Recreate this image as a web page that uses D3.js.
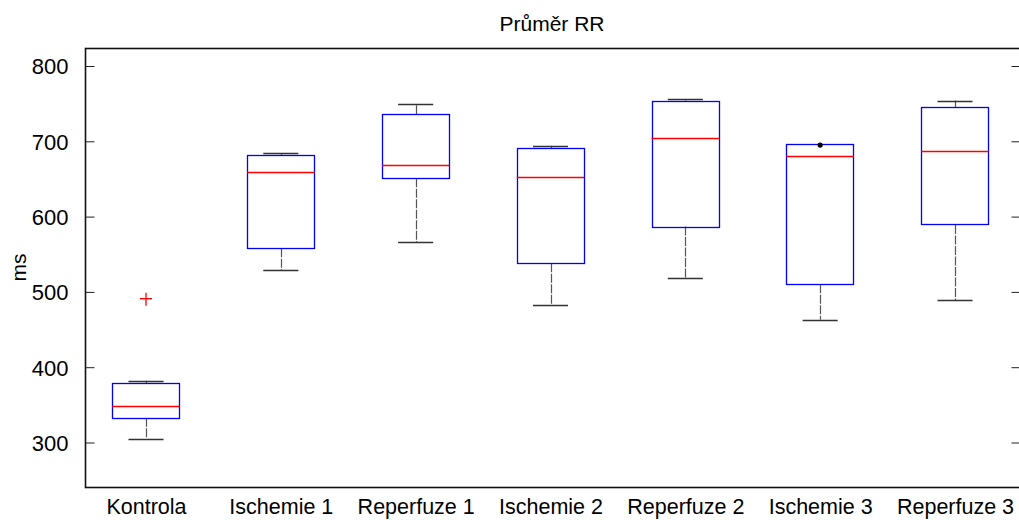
<!DOCTYPE html>
<html>
<head>
<meta charset="utf-8">
<script src="https://cdn.jsdelivr.net/npm/d3@7"></script>
<style>
	body { margin: 0; background: #fff; }
	text { font-family: "Liberation Sans", Arial, sans-serif; fill: #000; }
</style>
</head>
<body>
<svg id="chart" width="1019" height="520"></svg>
<script>
// data
var categories = ["Kontrola", "Ischemie 1", "Reperfuze 1", "Ischemie 2", "Reperfuze 2", "Ischemie 3", "Reperfuze 3"];
var whiskerLow  = [305, 529, 566, 482, 519, 463, 489];
var q1          = [333, 558, 651, 538, 587, 510, 589];
var median      = [349, 659, 668, 652, 705, 680, 687];
var q3          = [379, 682, 736, 691, 754, 696, 745];
var whiskerHigh = [382, 684, 750, 694, 756, 696, 754];
var outliers    = [{ cat: "Kontrola", value: 491 }];
var dots        = [{ cat: "Ischemie 3", value: 695 }];
var yTicks      = [300, 400, 500, 600, 700, 800];

var svg = d3.select("#chart");

var margin = { top: 48, right: 1020, bottom: 487, left: 85 };

var x = d3.scalePoint().domain(categories).range([146, 955]);
var step = x.step();
var y = d3.scaleLinear().domain([300, 800]).range([442.5, 66]);

var boxes = categories.map(function (c, i) {
	return { cat: c, lo: whiskerLow[i], q1: q1[i], med: median[i], q3: q3[i], hi: whiskerHigh[i] };
});

// title
svg.append("text")
	.attr("x", 552).attr("y", 31)
	.attr("text-anchor", "middle")
	.style("font-size", "21px")
	.text("Průměr RR");

// y label
svg.append("text")
	.attr("transform", "translate(26," + ((margin.top + margin.bottom) / 2) + ") rotate(-90)")
	.attr("text-anchor", "middle")
	.style("font-size", "21px")
	.text("ms");

var root = svg.append("g");

// whiskers
var g = root.selectAll("g.box").data(boxes).enter().append("g").attr("class", "box");

g.append("line")
	.attr("x1", function (d) { return Math.round(x(d.cat)) + 0.5; })
	.attr("x2", function (d) { return Math.round(x(d.cat)) + 0.5; })
	.attr("y1", function (d) { return y(d.q3); })
	.attr("y2", function (d) { return y(d.hi); })
	.attr("stroke", "#555").attr("stroke-width", 1.2).attr("stroke-dasharray", "9,1.5");
g.append("line")
	.attr("x1", function (d) { return Math.round(x(d.cat)) + 0.5; })
	.attr("x2", function (d) { return Math.round(x(d.cat)) + 0.5; })
	.attr("y1", function (d) { return y(d.q1); })
	.attr("y2", function (d) { return y(d.lo); })
	.attr("stroke", "#555").attr("stroke-width", 1.2).attr("stroke-dasharray", "9,1.5");

// caps
["lo", "hi"].forEach(function (k) {
	g.filter(function (d) { return d.hi !== d.q3 || k === "lo"; })
		.append("line")
		.attr("x1", function (d) { return x(d.cat) - step * 0.13; })
		.attr("x2", function (d) { return x(d.cat) + step * 0.13; })
		.attr("y1", function (d) { return Math.round(y(d[k])) + 0.5; })
		.attr("y2", function (d) { return Math.round(y(d[k])) + 0.5; })
		.attr("stroke", "#333").attr("stroke-width", 1.4);
});

// boxes
g.append("rect")
	.attr("x", function (d) { return Math.round(x(d.cat) - step * 0.25) + 0.5; })
	.attr("y", function (d) { return Math.round(y(d.q3)) + 0.5; })
	.attr("width", Math.round(step * 0.5))
	.attr("height", function (d) { return Math.round(y(d.q1) - y(d.q3)); })
	.attr("fill", "none").attr("stroke", "#0000ff").attr("stroke-width", 1.3);

// medians
g.append("line")
	.attr("x1", function (d) { return x(d.cat) - step * 0.25; })
	.attr("x2", function (d) { return x(d.cat) + step * 0.25; })
	.attr("y1", function (d) { return Math.round(y(d.med)) + 0.5; })
	.attr("y2", function (d) { return Math.round(y(d.med)) + 0.5; })
	.attr("stroke", "#ff0000").attr("stroke-width", 1.3);

// outliers (+)
var o = root.selectAll("g.out").data(outliers).enter().append("g")
	.attr("transform", function (d) { return "translate(" + x(d.cat) + "," + y(d.value) + ")"; });
o.append("line").attr("x1", -6).attr("x2", 6).attr("y1", 0).attr("y2", 0).attr("stroke", "#ff0000").attr("stroke-width", 1.3);
o.append("line").attr("x1", 0).attr("x2", 0).attr("y1", -6).attr("y2", 7).attr("stroke", "#ff0000").attr("stroke-width", 1.3);

root.selectAll("circle.dot").data(dots).enter().append("circle")
	.attr("cx", function (d) { return x(d.cat); })
	.attr("cy", function (d) { return y(d.value); })
	.attr("r", 2.6).attr("fill", "#000");

// axes frame
var frame = svg.append("g");
frame.append("rect")
	.attr("x", margin.left + 0.5).attr("y", margin.top + 0.5)
	.attr("width", margin.right - margin.left).attr("height", margin.bottom - margin.top)
	.attr("fill", "none").attr("stroke", "#111").attr("stroke-width", 1.6);

var yAxisL = d3.axisLeft(y).tickValues(yTicks).tickSize(-9).tickPadding(17);
frame.append("g")
	.attr("transform", "translate(" + (margin.left + 0.5) + ",0)")
	.call(yAxisL)
	.call(function (s) { s.select(".domain").remove(); })
	.call(function (s) { s.selectAll("text").style("font-size", "22px").attr("dy", "0.36em"); });

var yAxisR = d3.axisRight(y).tickValues(yTicks).tickSize(-9).tickFormat("");
frame.append("g")
	.attr("transform", "translate(" + (margin.right + 0.5) + ",0)")
	.call(yAxisR)
	.call(function (s) { s.select(".domain").remove(); });

var xAxis = d3.axisBottom(x).tickSize(0).tickPadding(12);
frame.append("g")
	.attr("transform", "translate(0," + margin.bottom + ")")
	.call(xAxis)
	.call(function (s) { s.select(".domain").remove(); })
	.call(function (s) { s.selectAll("text").style("font-size", "21.5px").attr("dy", "0.71em"); });

frame.selectAll(".tick line").attr("stroke", "#222");
</script>
</body>
</html>
